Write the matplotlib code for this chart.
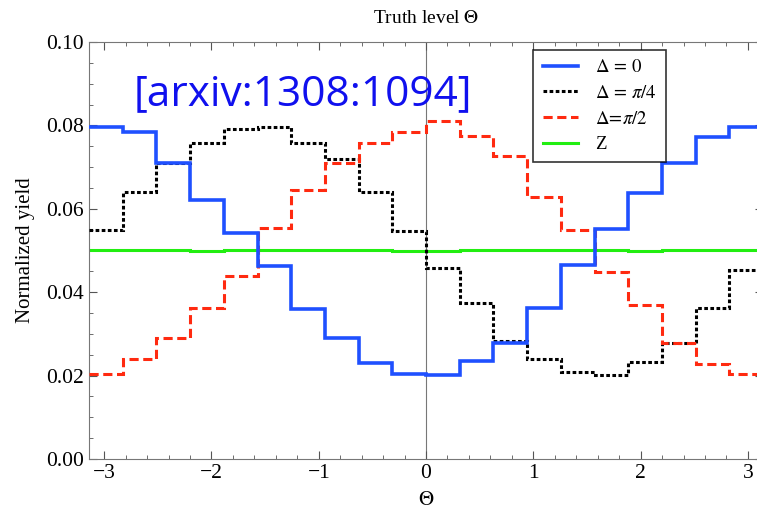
import numpy as np
import matplotlib
matplotlib.use('Agg')
from matplotlib import pyplot as plt
from matplotlib.ticker import MultipleLocator

plt.rcParams['font.family'] = ['Liberation Serif', 'DejaVu Serif']
plt.rcParams['mathtext.fontset'] = 'stix'

# normalized yield per bin, 20 bins over [-pi, pi]
n_bins = 20
delta_0 = [0.0795, 0.0783, 0.0709, 0.0621, 0.0543, 0.0463, 0.0359, 0.0289, 0.0231, 0.0203,
           0.0201, 0.0235, 0.0279, 0.0361, 0.0465, 0.0551, 0.0639, 0.0711, 0.0773, 0.0795]
delta_pi4 = [0.0549, 0.0641, 0.0709, 0.0757, 0.0791, 0.0795, 0.0757, 0.0719, 0.0641, 0.0547,
             0.0457, 0.0373, 0.0284, 0.0241, 0.0209, 0.0201, 0.0233, 0.0277, 0.0361, 0.0453]
delta_pi2 = [0.0203, 0.0240, 0.0289, 0.0363, 0.0439, 0.0553, 0.0645, 0.0709, 0.0757, 0.0783,
             0.0811, 0.0775, 0.0727, 0.0629, 0.0549, 0.0449, 0.0369, 0.0279, 0.0228, 0.0204]
z_vals = [0.0501, 0.0500, 0.0500, 0.0499, 0.0500, 0.0501, 0.0500, 0.0500, 0.0501, 0.0499,
          0.0498, 0.0500, 0.0501, 0.0500, 0.0501, 0.0500, 0.0499, 0.0501, 0.0500, 0.0500]

edges = np.linspace(-np.pi, np.pi, n_bins + 1)

fig = plt.figure(figsize=(7.57, 5.12), dpi=100)
ax = fig.add_axes([0.1176, 0.1035, 0.8904, 0.8145])

ax.axvline(0, color='#777777', linewidth=0.8, zorder=1)

ax.stairs(z_vals, edges, baseline=None, color='#22ee11', linewidth=2.2, label='Z', zorder=2)
ax.stairs(delta_pi4, edges, baseline=None, color='black', linewidth=2.2,
          linestyle=(0, (1.2, 0.8)), label=r'$\Delta\,=\,\pi/4$', zorder=3)
ax.stairs(delta_pi2, edges, baseline=None, color='#ff2a10', linewidth=2.2,
          linestyle=(0, (3, 1.5)), label=r'$\Delta\!=\!\pi/2$', zorder=3)
ax.stairs(delta_0, edges, baseline=None, color='#1f50ff', linewidth=2.6,
          label=r'$\Delta\,=\,0$', zorder=4)

ax.set_xlim(-np.pi, np.pi)
ax.set_ylim(0, 0.10)
ax.xaxis.set_major_locator(MultipleLocator(1))
ax.xaxis.set_minor_locator(MultipleLocator(0.2))
ax.yaxis.set_major_locator(MultipleLocator(0.02))
ax.yaxis.set_minor_locator(MultipleLocator(0.005))
ax.yaxis.set_major_formatter(plt.FuncFormatter(lambda v, p: f'{v:.2f}'))
ax.tick_params(which='both', direction='in', top=True, right=True, labelsize=15.5,
               color='#555555')
ax.tick_params(which='major', length=6)
ax.tick_params(which='minor', length=3)
for s in ax.spines.values():
    s.set_color('#777777')

ax.set_title(r'Truth level $\Theta$', fontsize=14, pad=14)
ax.set_ylabel('Normalized yield', fontsize=15, labelpad=8)
ax.set_xlabel(r'$\Theta$', fontsize=15, labelpad=6)

handles, labels = ax.get_legend_handles_labels()
order = [3, 1, 2, 0]
leg = ax.legend([handles[i] for i in order], [labels[i] for i in order],
                loc='upper left', bbox_to_anchor=(0.659, 0.981), borderaxespad=0,
                fontsize=13.5, frameon=True, fancybox=False, edgecolor='black',
                handlelength=1.9, handletextpad=0.9, labelspacing=0.45, borderpad=0.5)
leg.get_frame().set_linewidth(1.2)

fig.text(0.176, 0.816, '[arxiv:1308:1094]', color='#1010ee', fontsize=30.5,
         family='Open Sans', va='center')

fig.savefig('out.png', dpi=100)
